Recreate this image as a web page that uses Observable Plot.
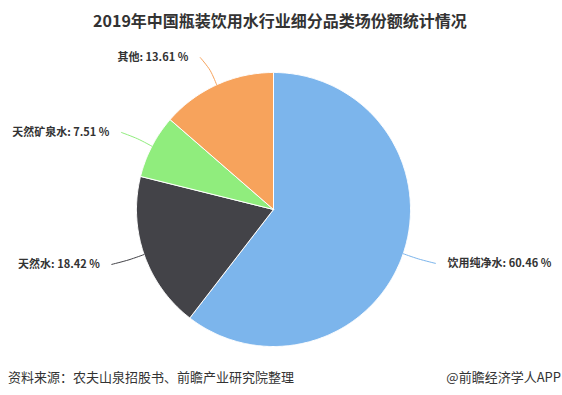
<!DOCTYPE html>
<html>
<head>
<meta charset="utf-8">
<script src="https://cdn.jsdelivr.net/npm/d3@7"></script>
<script src="https://cdn.jsdelivr.net/npm/@observablehq/plot@0.6"></script>
<style>
  html, body { margin: 0; padding: 0; background: #fff; }
  body { width: 562px; height: 395px; position: relative; overflow: hidden;
         font-family: "Noto Sans CJK SC", "Noto Sans", sans-serif; }
  #title { position: absolute; left: 0; top: 9px; width: 560px; text-align: center;
           font-size: 16px; font-weight: bold; color: #333; line-height: 22px; }
  #chart { position: absolute; left: 0; top: 40px; }
  #source { position: absolute; left: 8px; top: 368px; font-size: 13px; color: #333; line-height: 18px; }
  #brand { position: absolute; right: 1px; top: 368px; font-size: 13px; color: #333; line-height: 18px; }
</style>
</head>
<body>
<div id="title">2019年中国瓶装饮用水行业细分品类场份额统计情况</div>
<div id="chart"></div>
<div id="source">资料来源：农夫山泉招股书、前瞻产业研究院整理</div>
<div id="brand">@前瞻经济学人APP</div>
<script>
const names = ["饮用纯净水", "天然水", "天然矿泉水", "其他"];
const shares = [60.46, 18.42, 7.51, 13.61];
const colors = ["#7cb5ec", "#434348", "#90ed7d", "#f7a35c"];

// layout (pixel units, relative to pie centre)
const W = 562, H = 310;
const cx = 273, cy = 169;     // centre inside the svg
const R = 137, labelR = 167;

const total = d3.sum(shares);
const rad = a => a * Math.PI / 180;
const pt = (r, a) => ({x: r * Math.sin(rad(a)), y: r * Math.cos(rad(a))});

let cum = 0;
const slices = names.map((name, i) => {
  const a0 = cum / total * 360;
  cum += shares[i];
  const a1 = cum / total * 360;
  return {name, value: shares[i], a0, a1, mid: (a0 + a1) / 2};
});

// polygon points for each slice
const polys = [];
for (const s of slices) {
  polys.push({name: s.name, x: 0, y: 0});
  const n = Math.max(2, Math.ceil((s.a1 - s.a0) / 0.5));
  for (let k = 0; k <= n; k++) {
    const p = pt(R, s.a0 + (s.a1 - s.a0) * k / n);
    polys.push({name: s.name, ...p});
  }
  polys.push({name: s.name, x: 0, y: 0});
}

// labels and connectors
const labels = [], conns = [];
for (const s of slices) {
  const right = Math.sin(rad(s.mid)) > 0;
  const sgn = right ? 1 : -1;
  const A = pt(labelR, s.mid);
  const e = pt(R, s.mid);
  const m = pt(R + 16, s.mid);
  conns.push({name: s.name, x: e.x, y: e.y});
  conns.push({name: s.name, x: m.x, y: m.y});
  conns.push({name: s.name, x: A.x + sgn * 4, y: A.y});
  labels.push({name: s.name, right, x: A.x + sgn * 16, y: A.y,
               text: `${s.name}: ${s.value.toFixed(2)} %`});
}

const plot = Plot.plot({
  width: W, height: H,
  margin: 0,
  x: {domain: [-cx, W - cx], range: [0, W], axis: null},
  y: {domain: [cy - H, cy], range: [H, 0], axis: null},
  color: {domain: names, range: colors},
  style: {fontFamily: "'Noto Sans CJK SC', 'Noto Sans', sans-serif", background: "transparent"},
  marks: [
    Plot.line(polys, {x: "x", y: "y", z: "name", fill: "name", stroke: "#fff", strokeWidth: 1, curve: "linear-closed"}),
    Plot.line(conns, {x: "x", y: "y", z: "name", stroke: "name", strokeWidth: 1, curve: "catmull-rom"}),
    Plot.text(labels.filter(d => d.right), {x: "x", y: "y", text: "text", textAnchor: "start",
      fontSize: 11, fontWeight: "bold", fill: "#333"}),
    Plot.text(labels.filter(d => !d.right), {x: "x", y: "y", text: "text", textAnchor: "end",
      fontSize: 11, fontWeight: "bold", fill: "#333"})
  ]
});
document.getElementById("chart").appendChild(plot);
</script>
</body>
</html>
